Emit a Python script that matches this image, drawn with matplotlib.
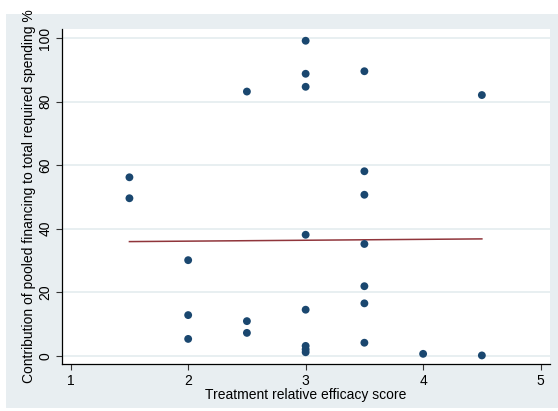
import numpy as np
import matplotlib
matplotlib.use('Agg')
from matplotlib import pyplot as plt
from matplotlib.patches import Rectangle

# efficacy score vs pooled financing share
efficacy = [1.5, 1.5, 2, 2, 2, 2.5, 2.5, 2.5,
            3, 3, 3, 3, 3, 3, 3, 3,
            3.5, 3.5, 3.5, 3.5, 3.5, 3.5, 3.5,
            4, 4.5, 4.5]
pooled = [56.2, 49.6, 30.1, 12.8, 5.3, 83.2, 10.9, 7.2,
          99.2, 88.8, 84.7, 38.1, 14.5, 3.1, 2.0, 1.1,
          89.6, 58.1, 50.7, 35.2, 21.9, 16.5, 4.1,
          0.6, 82.1, 0.1]
xticks = [1, 2, 3, 4, 5]
yticks = [0, 20, 40, 60, 80, 100]

plt.rcParams['font.family'] = ['Liberation Sans', 'DejaVu Sans']

fig = plt.figure(figsize=(5.58, 4.11), dpi=100)
# stata-ish graph region, behind the axes
bg = Rectangle((6/558, 3/411), 552/558, 394/411,
               transform=fig.transFigure, facecolor='#e8eef1',
               edgecolor='none', zorder=-10)
fig.add_artist(bg)
ax = fig.add_axes([62/558, 47/411, 488/558, 335/411])
ax.set_zorder(1)
ax.set_facecolor('white')

x = np.array(efficacy)
y = np.array(pooled)
slope, icpt = np.polyfit(x, y, 1)
xf = np.array([x.min(), x.max()])
ax.plot(xf, icpt + slope*xf, color='#90353b', lw=1.1, zorder=2)
ax.scatter(x, y, s=32, color='#1a476f', edgecolors='none', zorder=3)

ax.set_xlim(0.926, 5.08)
ax.set_ylim(-2.6, 102.9)
ax.set_xticks(xticks)
ax.set_yticks(yticks)
ax.set_yticklabels([str(v) for v in yticks], rotation=90, va='center')
ax.grid(axis='y', color='#e4ecef', lw=1.2)
ax.set_axisbelow(True)
for s in ['top', 'right']:
    ax.spines[s].set_visible(False)
for s in ['left', 'bottom']:
    ax.spines[s].set_color('black')
    ax.spines[s].set_linewidth(0.9)
ax.tick_params(length=4, width=0.8, color='#333333', labelsize=10, pad=3)

ax.set_xlabel('Treatment relative efficacy score', fontsize=10, labelpad=0.5)
ax.set_ylabel('Contribution of pooled financing to total required spending %',
              fontsize=10, labelpad=1.5)

plt.savefig('out.png', dpi=100)
